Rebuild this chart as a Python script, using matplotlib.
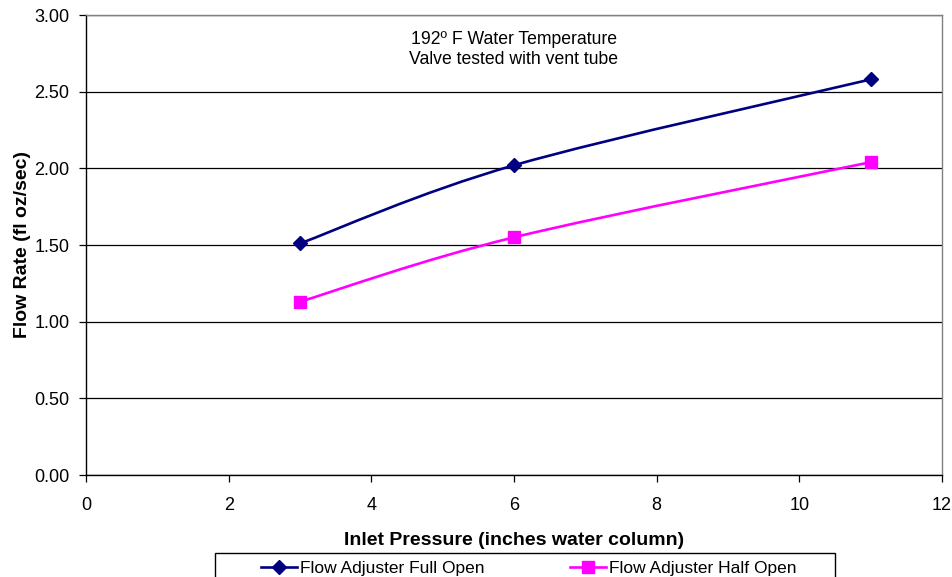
import numpy as np
import matplotlib
matplotlib.use('Agg')
import matplotlib.pyplot as plt
from matplotlib.path import Path
from matplotlib.patches import PathPatch, Rectangle
from matplotlib.lines import Line2D

plt.rcParams['font.family'] = ['Liberation Sans', 'DejaVu Sans']

# Data
pressure = [3, 6, 11]
full_open = [1.51, 2.02, 2.58]
half_open = [1.13, 1.55, 2.04]
series_names = ['Flow Adjuster Full Open', 'Flow Adjuster Half Open']


def smooth_path(xs, ys):
    # Excel-style smoothed line: Catmull-Rom segments drawn as cubic Beziers
    pts = np.column_stack([xs, ys]).astype(float)
    n = len(pts)
    verts = [pts[0]]
    codes = [Path.MOVETO]
    for i in range(n - 1):
        p0 = pts[i - 1] if i > 0 else pts[i]
        p1 = pts[i]
        p2 = pts[i + 1]
        p3 = pts[i + 2] if i + 2 < n else pts[i + 1]
        c1 = p1 + (p2 - p0) / 6.0
        c2 = p2 - (p3 - p1) / 6.0
        verts += [c1, c2, p2]
        codes += [Path.CURVE4] * 3
    return Path(verts, codes)


W, H = 953, 577
fig = plt.figure(figsize=(W / 100, H / 100), dpi=100)
ax = fig.add_axes([86 / W, 102 / H, 856 / W, 460 / H])

styles = [('#000080', 'D', 7.5), ('#FF00FF', 's', 8)]
for ys, (col, mk, ms) in zip([full_open, half_open], styles):
    ax.add_patch(PathPatch(smooth_path(pressure, ys), facecolor='none',
                           edgecolor=col, lw=1.9, zorder=3))
    ax.plot(pressure, ys, linestyle='none', marker=mk, markersize=ms,
            color=col, zorder=4)

ax.set_xlim(0, 12)
ax.set_ylim(0, 3.0)
ax.set_xticks(np.arange(0, 13, 2))
ax.set_yticks(np.arange(0, 3.01, 0.5))
ax.set_yticklabels(['%.2f' % v for v in np.arange(0, 3.01, 0.5)])
ax.yaxis.grid(True, color='black', lw=0.9)
ax.set_axisbelow(True)

ax.tick_params(axis='both', labelsize=13, direction='out', length=5,
               width=0.9, color='black')
ax.tick_params(axis='x', pad=11)
ax.tick_params(axis='y', pad=7)
for s in ['top', 'right']:
    ax.spines[s].set_color('#808080')
    ax.spines[s].set_linewidth(1.0)
for s in ['left', 'bottom']:
    ax.spines[s].set_color('black')
    ax.spines[s].set_linewidth(1.0)

ax.set_xlabel('Inlet Pressure (inches water column)', fontsize=14,
              fontweight='bold', labelpad=13)
ax.set_ylabel('Flow Rate (fl oz/sec)', fontsize=14, fontweight='bold',
              labelpad=2.5)

ax.text(6.0, 2.775, '192º F Water Temperature\nValve tested with vent tube',
        ha='center', va='center', fontsize=12.7, linespacing=1.25)

# legend box (cut off by the bottom edge, as in the original)
fig.patches.append(Rectangle((215 / W, (H - 600) / H), 620 / W, 47 / H,
                             transform=fig.transFigure, facecolor='white',
                             edgecolor='black', lw=1.0))
handles = [Line2D([], [], color=c, marker=m, markersize=s, lw=1.9)
           for c, m, s in styles]
leg = fig.legend(handles, series_names, loc='center left',
                 bbox_to_anchor=(261 / W, (H - 568) / H), ncol=2,
                 fontsize=12.5, frameon=False, borderpad=0,
                 handlelength=2.1, handletextpad=0.15,
                 columnspacing=4.9, borderaxespad=0)

fig.savefig('out.png', dpi=100, facecolor='white')
